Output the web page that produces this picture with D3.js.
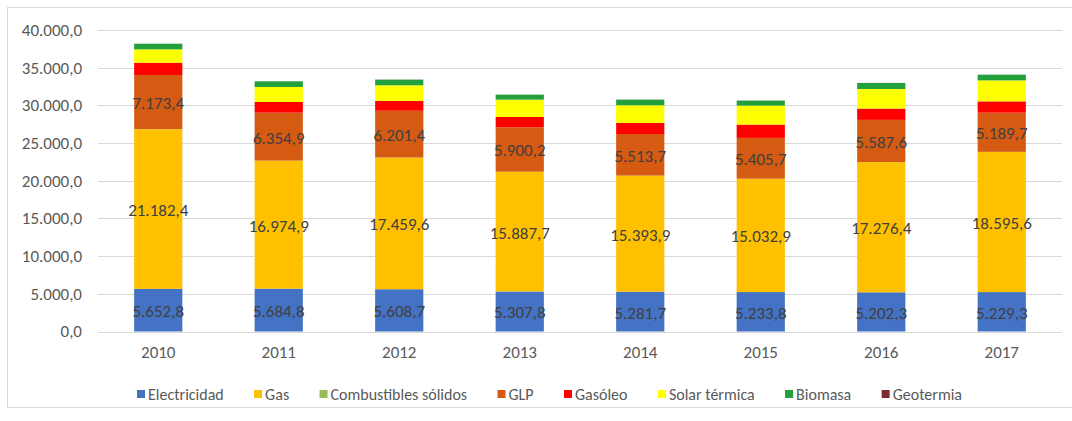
<!DOCTYPE html>
<html>
<head>
<meta charset="utf-8">
<script src="https://cdn.jsdelivr.net/npm/d3@7"></script>
<style>
  html, body { margin: 0; padding: 0; background: #fff; }
  svg { display: block; }
  text { font-family: Carlito, Calibri, "Open Sans", sans-serif; }
</style>
</head>
<body>
<svg id="chart" width="1072" height="421"></svg>
<script>
// ---- data ----
const years = ["2010", "2011", "2012", "2013", "2014", "2015", "2016", "2017"];
const seriesNames = ["Electricidad", "Gas", "Combustibles sólidos", "GLP", "Gasóleo", "Solar térmica", "Biomasa", "Geotermia"];
const electricidad = [5652.8, 5684.8, 5608.7, 5307.8, 5281.7, 5233.8, 5202.3, 5229.3];
const gas = [21182.4, 16974.9, 17459.6, 15887.7, 15393.9, 15032.9, 17276.4, 18595.6];
const combustiblesSolidos = [20, 15, 15, 12, 12, 10, 10, 10];
const glp = [7173.4, 6354.9, 6201.4, 5900.2, 5513.7, 5405.7, 5587.6, 5189.7];
const gasoleo = [1630, 1420, 1300, 1350, 1470, 1770, 1500, 1510];
const solarTermica = [1775, 1990, 2080, 2300, 2340, 2520, 2600, 2780];
const biomasa = [740, 750, 750, 660, 750, 660, 790, 750];
const geotermia = [8, 8, 9, 9, 10, 10, 11, 11];
const yTicks = [0, 5000, 10000, 15000, 20000, 25000, 30000, 35000, 40000];
const labelledSeries = ["Electricidad", "Gas", "GLP"];

const colors = ["#4472C4", "#FFC000", "#9BBB59", "#D55A12", "#FF0000", "#FFFF00", "#22A03C", "#7B2C2C"];

(function () {
  const allValues = [electricidad, gas, combustiblesSolidos, glp, gasoleo, solarTermica, biomasa, geotermia];
  const rows = years.map((yr, i) => {
    const r = { year: yr };
    seriesNames.forEach((s, k) => r[s] = allValues[k][i]);
    return r;
  });
  const stack = d3.stack().keys(seriesNames)(rows);

  const locale = d3.formatLocale({ decimal: ",", thousands: ".", grouping: [3], currency: ["", "€"] });
  const fmt = locale.format(",.1f");

  const svg = d3.select("#chart");
  const mLeft = 98, mRight = 1062, mTop = 30, mBottom = 331.5;
  const fs = "17px";

  svg.append("rect").attr("x", 7.5).attr("y", 7.5).attr("width", 1070).attr("height", 400)
    .attr("fill", "#fff").attr("stroke", "#D9D9D9");

  const x = d3.scaleBand().domain(years).range([mLeft, mRight]).paddingInner(0.6).paddingOuter(0.3);
  const y = d3.scaleLinear().domain([0, 40000]).range([mBottom, mTop]);

  svg.append("g").selectAll("line").data(yTicks).join("line")
    .attr("x1", mLeft).attr("x2", mRight)
    .attr("y1", d => Math.round(y(d)) + 0.5).attr("y2", d => Math.round(y(d)) + 0.5)
    .attr("stroke", "#D9D9D9").attr("stroke-width", 1);

  const yAxis = svg.append("g").attr("transform", `translate(${mLeft - 16},0)`)
    .call(d3.axisLeft(y).tickValues(yTicks).tickFormat(fmt).tickSize(0).tickPadding(0));
  yAxis.select(".domain").remove();
  yAxis.selectAll("text").attr("fill", "#595959").style("font-size", fs);

  svg.append("g").selectAll("g").data(stack).join("g")
    .attr("fill", (d, i) => colors[i])
    .selectAll("rect").data(d => d).join("rect")
    .attr("x", d => x(d.data.year))
    .attr("width", x.bandwidth())
    .attr("y", d => y(d[1]))
    .attr("height", d => Math.max(0, y(d[0]) - y(d[1])));

  stack.filter(s => labelledSeries.includes(s.key)).forEach(s => {
    svg.append("g").selectAll("text").data(s).join("text")
      .attr("x", d => x(d.data.year) + x.bandwidth() / 2)
      .attr("y", d => (y(d[0]) + y(d[1])) / 2 + 1)
      .attr("dy", "0.35em")
      .attr("text-anchor", "middle")
      .attr("fill", "#404040")
      .style("font-size", fs)
      .text(d => fmt(d.data[s.key]));
  });

  const xAxis = svg.append("g").attr("transform", `translate(0,${mBottom + 14})`)
    .call(d3.axisBottom(x).tickSize(0).tickPadding(0));
  xAxis.select(".domain").remove();
  xAxis.selectAll("text").attr("fill", "#595959").style("font-size", fs).attr("dy", "0.71em");

  const legend = svg.append("g");
  const items = legend.selectAll("g").data(seriesNames).join("g");
  items.append("rect").attr("width", 8).attr("height", 8).attr("y", -4)
    .attr("fill", (d, i) => colors[i]);
  items.append("text").attr("x", 11).attr("dy", "0.35em").attr("fill", "#595959")
    .style("font-size", "16px").text(d => d);
  const widths = [];
  items.each(function () { widths.push(this.getBBox().width); });
  const legStart = 137, legEnd = 962;
  const totalW = d3.sum(widths);
  const gap = (legEnd - legStart - totalW) / (seriesNames.length - 1);
  let cx = legStart;
  items.attr("transform", (d, i) => {
    const t = `translate(${cx},394)`;
    cx += widths[i] + gap;
    return t;
  });
})();
</script>
</body>
</html>
